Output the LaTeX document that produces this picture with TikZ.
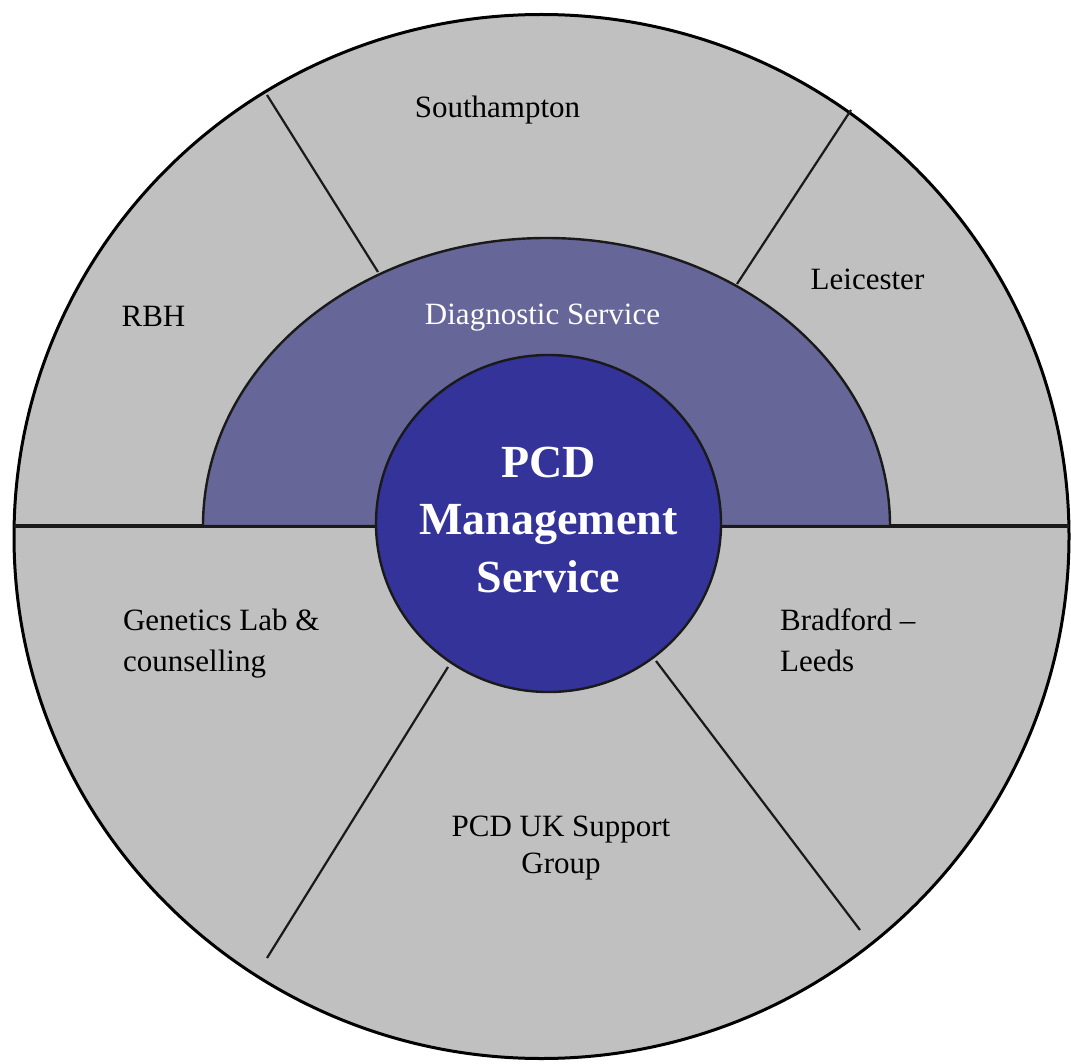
\documentclass[tikz,border=0pt]{standalone}
\usepackage{fontspec}
\setmainfont{Liberation Serif}
\definecolor{ringgray}{HTML}{C0C0C0}
\definecolor{diagblue}{HTML}{666699}
\definecolor{pcdblue}{HTML}{333399}
\definecolor{edgegray}{HTML}{1A1A1A}

\tikzset{every picture/.style={line width=1.1pt}}
\tikzset{
  site/.style={font=\fontsize{15.5}{20.5}\selectfont, align=left, inner sep=0pt},
  divider/.style={draw=edgegray, line width=1.1pt}
}

\begin{document}
\begin{tikzpicture}[x=0.5pt,y=0.5pt,yscale=-1,xscale=1]
\useasboundingbox (0,0) rectangle (1071,1064);

%Shape: Outer Ring
\draw [fill=ringgray, line width=1.5pt] (541.5,536.5) ellipse [x radius=527.5, y radius=522];
%Straight Lines: horizontal split
\draw [draw=edgegray, line width=1.8pt] (14,526) -- (1069,526);
%Straight Lines: upper dividers
\draw [divider] (267,95) -- (378,272);
\draw [divider] (851,110) -- (737,284);
%Shape: Half Ellipse (diagnostic)
\draw [fill=diagblue, draw=edgegray, line width=1.2pt] (203,526) arc [start angle=180, end angle=360, x radius=343.5, y radius=288] -- cycle;
%Straight Lines: lower dividers
\draw [divider] (448,667) -- (267,958);
\draw [divider] (656,661) -- (860,930);
%Shape: Circle (centre)
\draw [fill=pcdblue, draw=edgegray, line width=1.2pt] (548.5,523.5) ellipse [x radius=172.5, y radius=168.5];

% Text Node
\node [site, anchor=base] (southampton) at (497.5,118) {Southampton};
% Text Node
\node [site, anchor=base] (leicester) at (867.5,290) {Leicester};
% Text Node
\node [site, anchor=base] (rbh) at (153.5,327) {RBH};
% Text Node
\node [site, anchor=base, text=white] (diagnostic) at (542.5,325) {Diagnostic Service};
% Text Node
\node [site, anchor=base west] (genetics) at (122,671) {Genetics Lab \&\\counselling};
% Text Node
\node [site, anchor=base west] (bradford) at (779,671) {Bradford –\\Leeds};
% Text Node
\node [site, anchor=base, align=center, font=\fontsize{15.5}{18.5}\selectfont] (support) at (561,873) {PCD UK Support\\Group};
% Text Node
\node [anchor=base, align=center, inner sep=0pt, text=white, font=\bfseries\fontsize{23}{28.75}\selectfont] (pcd) at (548.5,592) {PCD\\Management\\Service};

\end{tikzpicture}
\end{document}
